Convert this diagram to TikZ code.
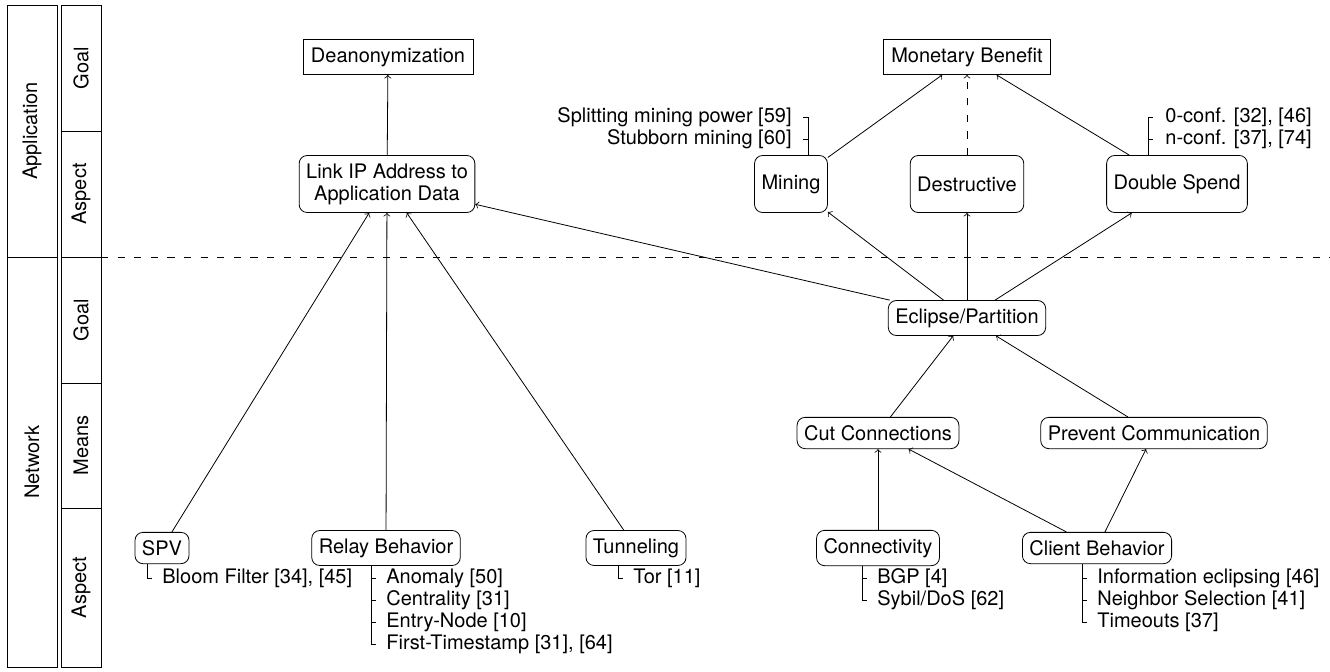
\documentclass[tikz,border=0pt]{standalone}
\usepackage{fontspec}
\setmainfont{TeX Gyre Heros}
\usepackage{tikz}
\usetikzlibrary{arrows}
\tikzstyle{arrow} = [->]
\tikzstyle{goal} = [draw, rectangle, inner xsep=4pt, inner ysep=4pt]
\tikzstyle{aspect} = [draw, rounded corners=4pt, inner xsep=3.5pt, inner ysep=4pt, align=center]
\tikzstyle{tall} = [aspect, minimum height=28.5pt]
\tikzstyle{item} = [inner sep=0pt]
\tikzstyle{layer} = [dash pattern=on 3.6pt off 4.7pt]

\begin{document}
\begin{tikzpicture}[x=0.5pt,y=-0.5pt,font=\fontsize{10}{11}\selectfont]
	\useasboundingbox (0,0) rectangle (1330,671);
	% layers on the left
	\draw (7,5) rectangle node[rotate=90] (app) {Application} (57,257);
	\draw (7,257) rectangle node[rotate=90] (net) {Network} (57,667);
	\foreach \Ya/\Yb/\Texto in 
	{5/131/Goal,131/257/Aspect,257/383/Goal,383/508/Means,508/667/Aspect}
	{
		\draw (61,\Ya) rectangle node[rotate=90] (lay\Ya) {\Texto} (101,\Yb);
	}
	\coordinate (sepl) at (101,257);
	\coordinate (sepr) at (1330,257);
	\draw[layer] (sepl) -- (sepr);
	
	% goals
	\node[goal] (deanon) at (388,57) {Deanonymization};
	\node[goal] (money) at (967,57) {Monetary Benefit};
	% application aspects
	\node[tall] (link) at (387,184) {Link IP Address to\\Application Data};
	\node[tall] (mining) at (791,184) {Mining};
	\node[tall] (destr) at (967,184) {Destructive};
	\node[tall] (double) at (1177,184) {Double Spend};
	% network
	\node[aspect] (eclipse) at (967,318) {Eclipse/Partition};
	\node[aspect] (cut) at (878,433) {Cut Connections};
	\node[aspect] (prevent) at (1154,433) {Prevent Communication};
	\node[aspect] (spv) at (162,548) {SPV};
	\node[aspect] (relay) at (386,548) {Relay Behavior};
	\node[aspect] (tunnel) at (636,548) {Tunneling};
	\node[aspect] (conn) at (878,548) {Connectivity};
	\node[aspect] (client) at (1097,548) {Client Behavior};
	
	\draw[arrow] (link) -- (deanon);
	\draw[arrow] (mining) -- (money);
	\draw[arrow,layer] (destr) -- (money);
	\draw[arrow] (double) -- (money);
	\draw[arrow] (spv) -- (link);
	\draw[arrow] (relay) -- (link);
	\draw[arrow] (tunnel) -- (link);
	\draw[arrow] (eclipse) -- (link);
	\draw[arrow] (eclipse) -- (mining);
	\draw[arrow] (eclipse) -- (destr);
	\draw[arrow] (eclipse) -- (double);
	\draw[arrow] (cut) -- (eclipse);
	\draw[arrow] (prevent) -- (eclipse);
	\draw[arrow] (conn) -- (cut);
	\draw[arrow] (client) -- (cut);
	\draw[arrow] (client) -- (prevent);
	
	% references below the aspects
	\node[item,anchor=west] (spv1) at (162,578) {Bloom Filter [34], [45]};
	\coordinate (spvbar) at ([xshift=-7.5pt]spv1.west);
	\draw (spvbar |- spv.south) -- (spvbar) -- ++(2.5pt,0);
	
	\foreach \Yc/\Texto in 
	{578/Anomaly [50],600/Centrality [31],622/Entry-Node [10],644/{First-Timestamp [31], [64]}}
	{
		\node[item,anchor=west] (relay\Yc) at (386,\Yc) {\Texto};
	}
	\coordinate (relaybar) at ([xshift=-7.5pt]relay644.west);
	\draw (relaybar |- relay.south) -- (relaybar) -- ++(2.5pt,0);
	\foreach \Yc in {578,600,622}
	{
		\draw (relaybar |- relay\Yc.west) -- ++(2.5pt,0);
	}
	
	\node[item,anchor=west] (tunnel1) at (633,578) {Tor [11]};
	\coordinate (tunnelbar) at ([xshift=-7.5pt]tunnel1.west);
	\draw (tunnelbar |- tunnel.south) -- (tunnelbar) -- ++(2.5pt,0);
	
	\foreach \Yc/\Texto in 
	{578/{BGP [4]},600/{Sybil/DoS [62]}}
	{
		\node[item,anchor=west] (conn\Yc) at (877,\Yc) {\Texto};
	}
	\coordinate (connbar) at ([xshift=-7.5pt]conn600.west);
	\draw (connbar |- conn.south) -- (connbar) -- ++(2.5pt,0);
	\draw (connbar |- conn578.west) -- ++(2.5pt,0);
	
	\foreach \Yc/\Texto in 
	{578/Information eclipsing [46],600/Neighbor Selection [41],622/Timeouts [37]}
	{
		\node[item,anchor=west] (client\Yc) at (1097,\Yc) {\Texto};
	}
	\coordinate (clientbar) at ([xshift=-7.5pt]client622.west);
	\draw (clientbar |- client.south) -- (clientbar) -- ++(2.5pt,0);
	\foreach \Yc in {578,600}
	{
		\draw (clientbar |- client\Yc.west) -- ++(2.5pt,0);
	}
	
	% references above the aspects
	\node[item,anchor=east] (mining1) at (792,117) {Splitting mining power [59]};
	\node[item,anchor=east] (mining2) at (792,139) {Stubborn mining [60]};
	\coordinate (miningbar) at ([xshift=8pt]mining1.east);
	\draw (miningbar |- mining.north) -- (miningbar) -- ++(-2.5pt,0);
	\draw (miningbar |- mining2.east) -- ++(-2.5pt,0);
	
	\node[item,anchor=west] (double1) at (1165,117) {0-conf. [32], [46]};
	\node[item,anchor=west] (double2) at (1165,139) {n-conf. [37], [74]};
	\coordinate (doublebar) at ([xshift=-8.5pt]double1.west);
	\draw (doublebar |- double.north) -- (doublebar) -- ++(2.5pt,0);
	\draw (doublebar |- double2.west) -- ++(2.5pt,0);
\end{tikzpicture}
\end{document}
